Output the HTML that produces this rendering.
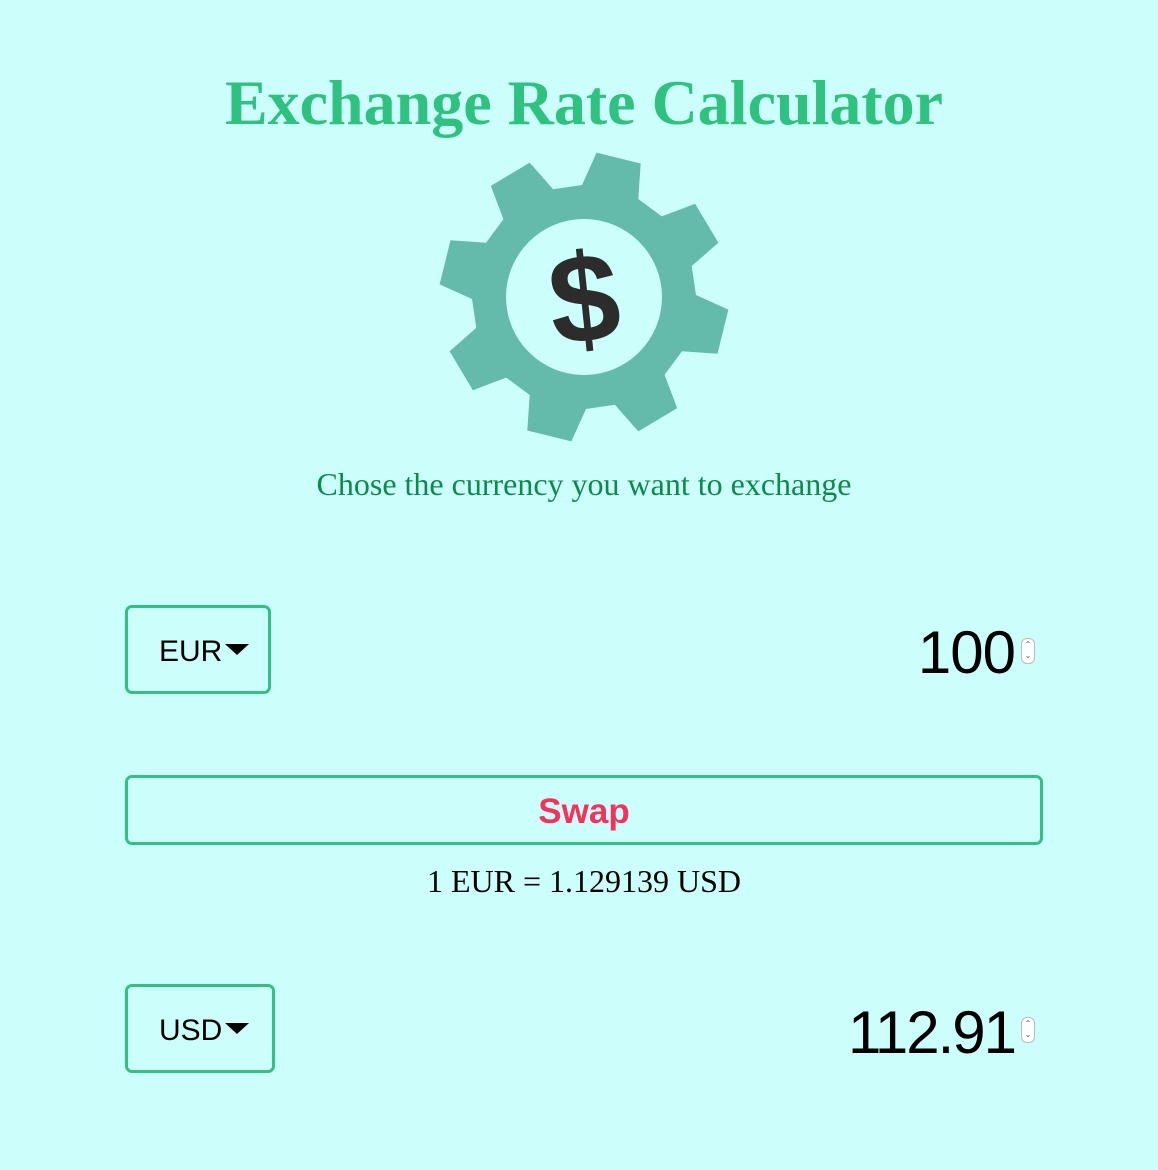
<!DOCTYPE html>
<html><head><meta charset="utf-8"><style>
body{margin:0;width:1158px;height:1170px;background:#ccfffb;position:relative;overflow:hidden;font-family:"Liberation Sans",sans-serif}
.abs{position:absolute}
h1{position:absolute;left:0;width:1168px;top:66px;margin:0;text-align:center;font:bold 64px "Liberation Serif",serif;color:#2fc180}
.sub{left:0;width:1168px;top:466px;text-align:center;font:32px "Liberation Serif",serif;color:#0b8a4c}
.sel{border:3px solid #33c083;border-radius:7px;box-sizing:border-box;font-size:30px;color:#000;display:flex;align-items:center;padding-left:31px;padding-top:4px}
.tri{display:inline-block;width:0;height:0;border-left:12px solid transparent;border-right:12px solid transparent;border-top:11px solid #000;margin-left:3px;margin-top:-4px}
.num{font-size:60px;color:#000;text-align:right;letter-spacing:-1px}
.spin{width:12px;height:24px;border:1px solid #bbb;border-radius:6px;background:#fff;font-size:8px;line-height:11px;text-align:center;color:#555}
</style></head><body>
<h1>Exchange Rate Calculator</h1>
<svg class="abs" style="left:0;top:0" width="1158" height="460">
<path id="gear" fill="#64bbab"/>
<circle cx="584" cy="297" r="78" fill="#ccfffb"/>
<text x="584" y="342" text-anchor="middle" font-family="Liberation Sans,sans-serif" font-weight="bold" font-size="126" fill="#2c2c2c" transform="rotate(-6 584 297)">$</text>
</svg>
<div class="abs sub">Chose the currency you want to exchange</div>
<div class="abs sel" style="left:125px;top:605px;width:146px;height:89px">EUR<span class="tri"></span></div>
<div class="abs num" style="left:700px;top:618px;width:315px">100</div>
<div class="abs spin" style="left:1021px;top:638px">⌃<br>⌄</div>
<div class="abs" style="left:125px;top:775px;width:918px;height:70px;border:3px solid #33c083;border-radius:7px;box-sizing:border-box;text-align:center;font:bold 35px 'Liberation Sans',sans-serif;color:#f5325c;line-height:68px">Swap</div>
<div class="abs" style="left:0;width:1168px;top:863px;text-align:center;font:32px 'Liberation Serif',serif;color:#000">1 EUR = 1.129139 USD</div>
<div class="abs sel" style="left:125px;top:984px;width:150px;height:89px">USD<span class="tri"></span></div>
<div class="abs num" style="left:700px;top:998px;width:315px;letter-spacing:-2px">112.91</div>
<div class="abs spin" style="left:1021px;top:1017px">⌃<br>⌄</div>
<script>
var cx=584,cy=297,R=145,r=112,n=8,off=14,d="";
for(var i=0;i<n;i++){
 var a=off+i*360/n;
 var pts=[[r,a-15],[R,a-9],[R,a+9],[r,a+15]];
 pts.forEach(function(p,j){
  var t=(p[1]-90)*Math.PI/180;
  d+=(i==0&&j==0?"M":"L")+(cx+p[0]*Math.cos(t)).toFixed(1)+" "+(cy+p[0]*Math.sin(t)).toFixed(1);
 });
}
document.getElementById('gear').setAttribute('d',d+"Z");
</script>
</body></html>
